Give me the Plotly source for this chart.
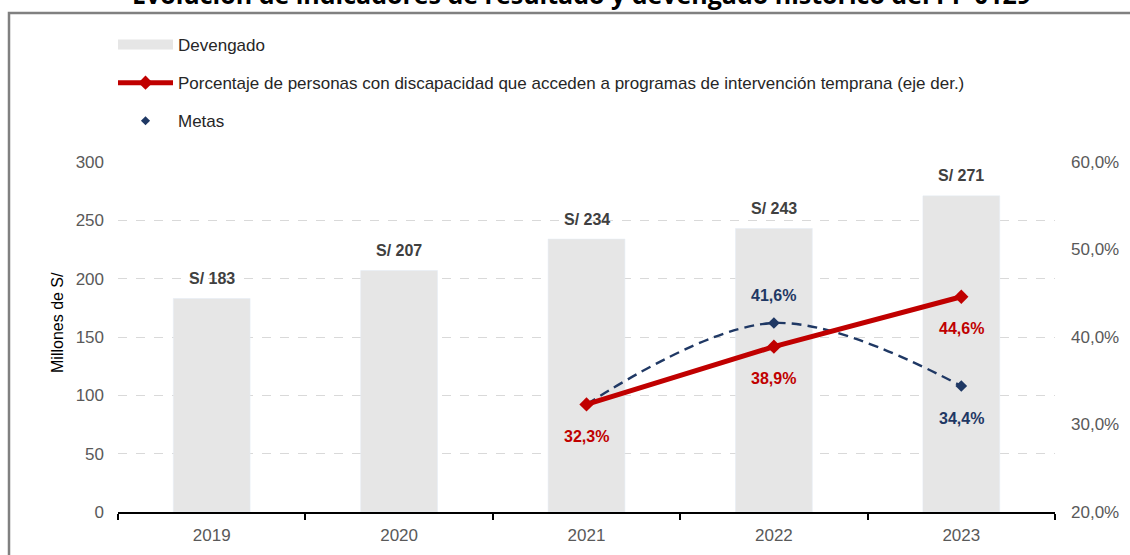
import plotly.graph_objects as go

# data
years = ["2019", "2020", "2021", "2022", "2023"]
devengado = [183, 207, 234, 243, 271]
pct_years = ["2021", "2022", "2023"]
porcentaje = [32.3, 38.9, 44.6]
metas_years = ["2021", "2022", "2023"]
metas = [32.3, 41.6, 34.4]
metas_labeled = ["2022", "2023"]

FONT = "Liberation Sans, Arial, sans-serif"
RED = "#c00000"
NAVY = "#1f3864"
GRAY_BAR = "#e6e6e6"

W, H = 1130, 555
L, R, T, B = 118, 1055, 162, 512


def px_x(p):
    return (p - L) / (R - L)


def px_y(p):
    return (B - p) / (B - T)


def fmt(v):
    return f"{v:.1f}".replace(".", ",") + "%"


fig = go.Figure()

fig.add_trace(go.Bar(x=years, y=devengado, marker_color=GRAY_BAR, width=0.41,
                     showlegend=False, hoverinfo="skip"))
# legend swatch for the bars (wide grey band like the original)
fig.add_trace(go.Scatter(x=[years[0]], y=[None], mode="lines", name="Devengado",
                         line=dict(color=GRAY_BAR, width=12), legendgroup="a",
                         legendrank=1))
fig.add_trace(go.Scatter(x=metas_years, y=metas, yaxis="y2", mode="lines+markers",
                         line=dict(color=NAVY, width=2.4, dash="10px,6px", shape="spline"),
                         marker=dict(symbol="diamond", size=9, color=NAVY),
                         showlegend=False))
fig.add_trace(go.Scatter(x=pct_years, y=porcentaje, yaxis="y2", mode="lines+markers",
                         name="Porcentaje de personas con discapacidad que acceden a programas de intervención temprana (eje der.)",
                         line=dict(color=RED, width=5),
                         marker=dict(symbol="diamond", size=11, color=RED),
                         legendgroup="b", legendrank=2))
fig.add_trace(go.Scatter(x=[years[0]], y=[None], yaxis="y2", mode="markers", name="Metas",
                         marker=dict(symbol="diamond", size=7, color=NAVY),
                         legendgroup="c", legendrank=3))

# category index helper (numeric-looking names would be read as indices)
idx = {yr: i for i, yr in enumerate(years)}

# bar labels
for yr, v in zip(years, devengado):
    fig.add_annotation(x=idx[yr], y=v, text=f"<b>S/ {v}</b>", showarrow=False,
                       yanchor="middle", yshift=20,
                       font=dict(family=FONT, size=16, color="#404040"))
# red labels below the points
for yr, v in zip(pct_years, porcentaje):
    fig.add_annotation(x=idx[yr], y=v, yref="y2", text=f"<b>{fmt(v)}</b>", showarrow=False,
                       yanchor="middle", yshift=-32,
                       font=dict(family=FONT, size=16, color=RED))
# metas labels
for yr, v in zip(metas_years, metas):
    if yr not in metas_labeled:
        continue
    shift = 28 if yr == "2022" else -32
    fig.add_annotation(x=idx[yr], y=v, yref="y2", text=f"<b>{fmt(v)}</b>", showarrow=False,
                       yanchor="middle", yshift=shift,
                       font=dict(family=FONT, size=16, color=NAVY))

# y axis title
fig.add_annotation(xref="paper", yref="paper", x=px_x(57), y=px_y(323), text="Millones de S/",
                   textangle=-90, showarrow=False, xanchor="center", yanchor="middle",
                   font=dict(family=FONT, size=16, color="#000000"))

# title, cut at the top edge like in the screenshot
fig.add_annotation(xref="paper", yref="paper", x=px_x(581), y=px_y(-6),
                   text="<b>Evolución de indicadores de resultado y devengado histórico del PP 0129</b>",
                   showarrow=False, xanchor="center", yanchor="middle",
                   font=dict(family="Open Sans, sans-serif", size=25, color="#000000"))

# outer frame
fig.add_shape(type="rect", xref="paper", yref="paper",
              x0=px_x(9), x1=px_x(W + 20), y0=px_y(H + 20), y1=px_y(13),
              line=dict(color="#808080", width=2.5), layer="below")

fig.update_layout(
    width=W, height=H,
    margin=dict(l=L, r=W - R, t=T, b=H - B, autoexpand=False),
    paper_bgcolor="white", plot_bgcolor="white",
    separators=",.",
    font=dict(family=FONT, size=17, color="#595959"),
    xaxis=dict(type="category", range=[-0.5, 4.5], showline=True, linecolor="#000000",
               linewidth=2, ticks="outside", tickson="boundaries", ticklen=6, tickwidth=2,
               tickcolor="#000000", showgrid=False, tickangle=0, automargin=False,
               ticklabelstandoff=7,
               tickfont=dict(family=FONT, size=17, color="#595959")),
    yaxis=dict(range=[0, 300], dtick=50, showline=False, zeroline=False,
               showgrid=True, gridcolor="#d9d9d9", griddash="dash", gridwidth=1,
               ticks="", ticklabelstandoff=13, automargin=False,
               tickfont=dict(family=FONT, size=17, color="#595959")),
    yaxis2=dict(range=[20, 60], dtick=10, overlaying="y", side="right",
                showgrid=False, zeroline=False, showline=False, automargin=False,
                tickformat=".1f", ticksuffix="%", ticklabelstandoff=15,
                tickfont=dict(family=FONT, size=17, color="#595959")),
    legend=dict(x=px_x(113), y=px_y(27), xanchor="left", yanchor="top",
                traceorder="grouped", tracegroupgap=13, itemwidth=55,
                bgcolor="rgba(0,0,0,0)",
                font=dict(family=FONT, size=17, color="#262626")),
)

# the page puts the chart at the very top-left corner, without the body margin
fig.write_html("out.html", config={"displayModeBar": False},
               post_script="document.body.style.margin='0';")
